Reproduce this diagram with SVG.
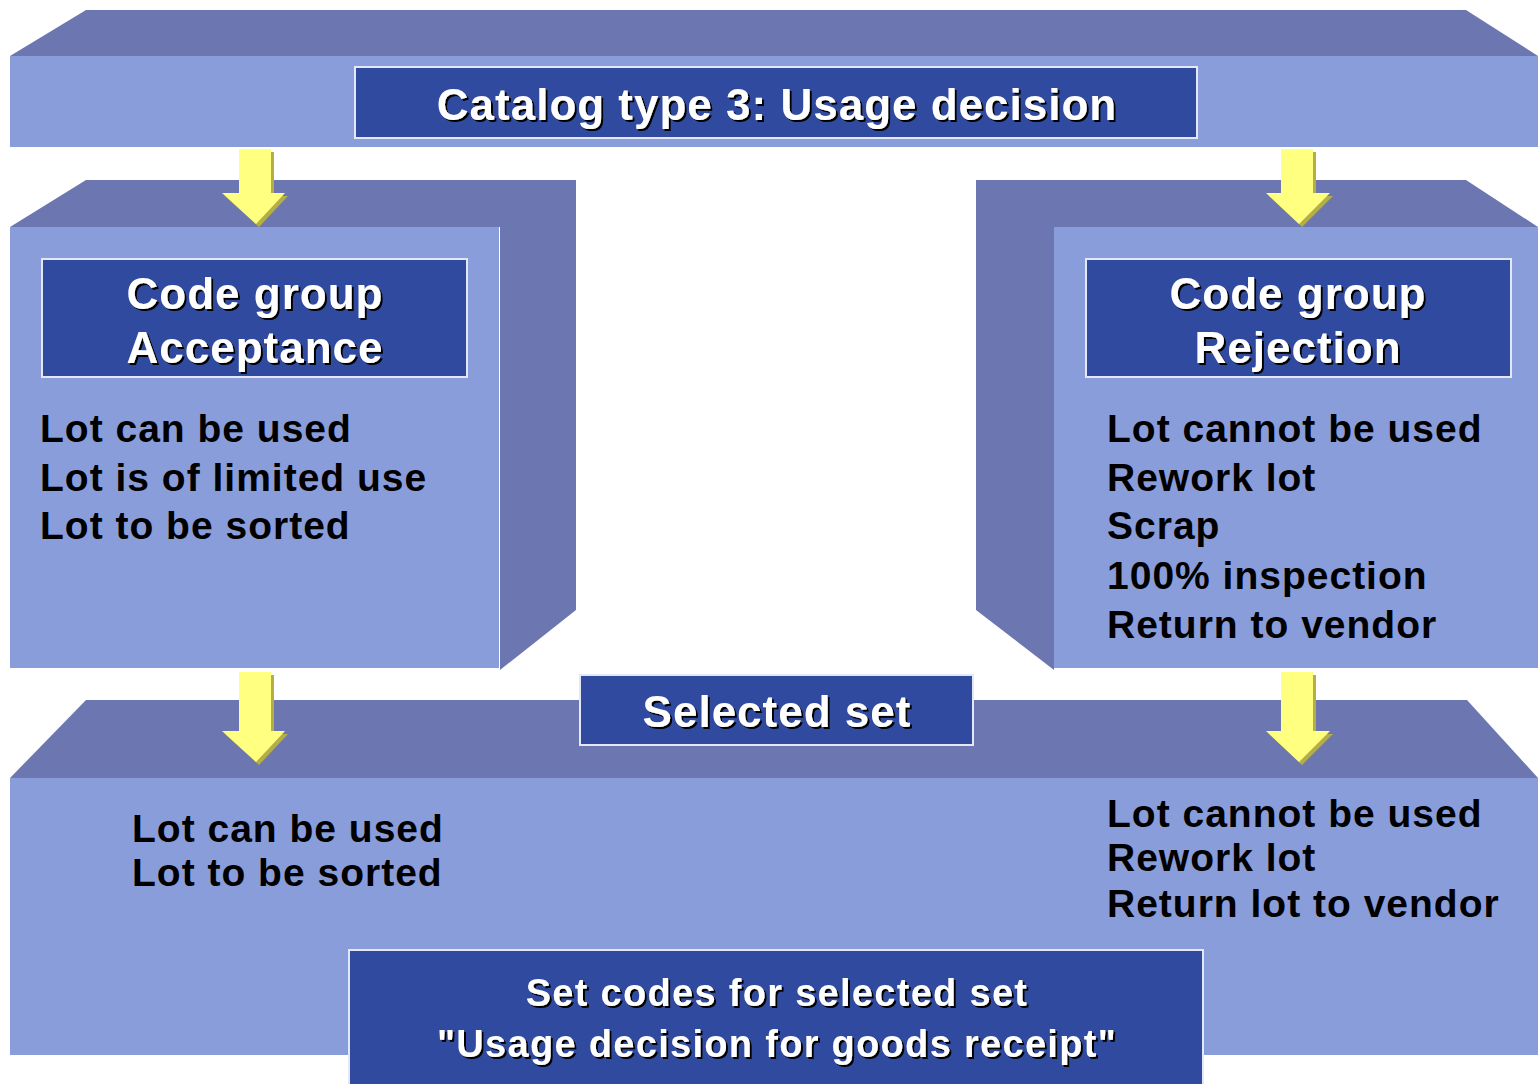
<svg xmlns="http://www.w3.org/2000/svg" width="1538" height="1084" viewBox="0 0 1538 1084">
<style>
.top{fill:#6C77B1}
.front{fill:#8A9DDB}
.box{fill:#2F4A9E;stroke:#E4E8F6;stroke-width:2}
.title{font-family:"Liberation Sans",Arial,sans-serif;font-weight:bold;fill:#FFFFFF;text-anchor:middle}
.lst{font-family:"Liberation Sans",Arial,sans-serif;font-weight:bold;fill:#000000;font-size:39px;letter-spacing:1px}
.arw{fill:#FFFF80}
.arws{fill:#B5AE45}
</style>
<defs>
<filter id="sh" x="-5%" y="-20%" width="110%" height="140%">
<feDropShadow dx="2" dy="2" stdDeviation="0" flood-color="#000000" flood-opacity="1"/>
</filter>
</defs>
<rect width="1538" height="1084" fill="#FFFFFF"/>

<g id="catalog">
<polygon class="top" points="10,56 86,10 1466,10 1538,56"/>
<rect class="front" x="10" y="56" width="1528" height="91"/>
<rect class="box" x="355" y="67" width="842" height="71"/>
<text class="title" x="777" y="120" font-size="44" letter-spacing="1" filter="url(#sh)">Catalog type 3: Usage decision</text>
</g>

<g id="acceptance">
<polygon class="top" points="10,227 86,180 576,180 576,610 500,670 500,227"/>
<rect class="front" x="10" y="227" width="489" height="441"/>
<rect class="box" x="42" y="259" width="425" height="118"/>
<text class="title" x="255" y="309" font-size="44" letter-spacing="1" filter="url(#sh)">Code group</text>
<text class="title" x="255" y="363" font-size="44" letter-spacing="1" filter="url(#sh)">Acceptance</text>
<text class="lst" x="40" y="442">Lot can be used</text>
<text class="lst" x="40" y="491">Lot is of limited use</text>
<text class="lst" x="40" y="539">Lot to be sorted</text>
</g>

<g id="rejection">
<polygon class="top" points="976,180 1466,180 1538,227 1054,227 1054,670 976,610"/>
<rect class="front" x="1054" y="227" width="484" height="441"/>
<rect class="box" x="1086" y="259" width="425" height="118"/>
<text class="title" x="1298" y="309" font-size="44" letter-spacing="1" filter="url(#sh)">Code group</text>
<text class="title" x="1298" y="363" font-size="44" letter-spacing="1" filter="url(#sh)">Rejection</text>
<text class="lst" x="1107" y="442">Lot cannot be used</text>
<text class="lst" x="1107" y="491">Rework lot</text>
<text class="lst" x="1107" y="539">Scrap</text>
<text class="lst" x="1107" y="589">100% inspection</text>
<text class="lst" x="1107" y="638">Return to vendor</text>
</g>

<g id="selected-set">
<polygon class="top" points="10,778 86,700 1467,700 1538,778"/>
<rect class="front" x="10" y="778" width="1528" height="277"/>
<rect class="box" x="580" y="675" width="393" height="70"/>
<text class="title" x="777" y="727" font-size="44" letter-spacing="1" filter="url(#sh)">Selected set</text>
<text class="lst" x="132" y="842">Lot can be used</text>
<text class="lst" x="132" y="886">Lot to be sorted</text>
<text class="lst" x="1107" y="827">Lot cannot be used</text>
<text class="lst" x="1107" y="871">Rework lot</text>
<text class="lst" x="1107" y="917">Return lot to vendor</text>
</g>

<g id="set-codes">
<rect class="box" x="349" y="950" width="854" height="140"/>
<text class="title" x="777" y="1006" font-size="38" letter-spacing="1.3" filter="url(#sh)">Set codes for selected set</text>
<text class="title" x="777" y="1057" font-size="38" letter-spacing="1.3" filter="url(#sh)">"Usage decision for goods receipt"</text>
</g>

<g id="connectors">
<polygon class="arws" points="242,152 274,152 274,196 288,196 259,227 225,196 242,196"/>
<polygon class="arw" points="239,149 271,149 271,193 285,193 256,224 222,193 239,193"/>
<polygon class="arws" points="1284,152 1316,152 1316,196 1333,196 1302,227 1269,196 1284,196"/>
<polygon class="arw" points="1281,149 1313,149 1313,193 1330,193 1299,224 1266,193 1281,193"/>
<polygon class="arws" points="242,675 274,675 274,734 288,734 259,765 225,734 242,734"/>
<polygon class="arw" points="239,672 271,672 271,731 285,731 256,762 222,731 239,731"/>
<polygon class="arws" points="1284,675 1316,675 1316,734 1333,734 1302,765 1269,734 1284,734"/>
<polygon class="arw" points="1281,672 1313,672 1313,731 1330,731 1299,762 1266,731 1281,731"/>
</g>
</svg>
